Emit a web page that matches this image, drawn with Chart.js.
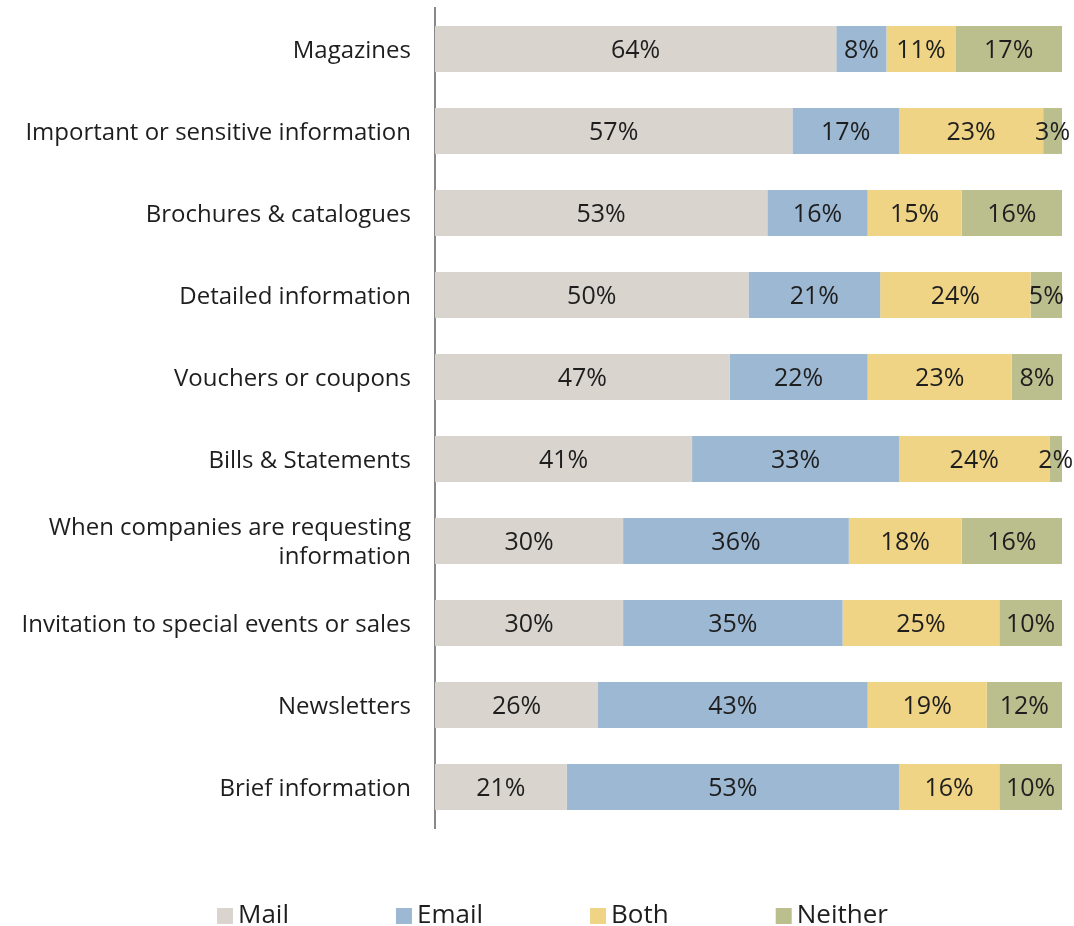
<!DOCTYPE html>
<html>
<head>
<meta charset="utf-8">
<script src="https://cdn.jsdelivr.net/npm/chart.js@4.4.1/dist/chart.umd.min.js"></script>
<style>
  html, body { margin: 0; padding: 0; background: #fff; }
  #wrap { width: 1074px; height: 926px; }
</style>
</head>
<body>
<div id="wrap"><canvas id="channels"></canvas></div>
<script>
var categories = [
  "Magazines",
  "Important or sensitive information",
  "Brochures & catalogues",
  "Detailed information",
  "Vouchers or coupons",
  "Bills & Statements",
  ["When companies are requesting", "information"],
  "Invitation to special events or sales",
  "Newsletters",
  "Brief information"
];
var mail    = [64, 57, 53, 50, 47, 41, 30, 30, 26, 21];
var email   = [8, 17, 16, 21, 22, 33, 36, 35, 43, 53];
var both    = [11, 23, 15, 24, 23, 24, 18, 25, 19, 16];
var neither = [17, 3, 16, 5, 8, 2, 16, 10, 12, 10];

var seriesNames  = ["Mail", "Email", "Both", "Neither"];
var seriesColors = ["#d9d4ce", "#9db8d2", "#efd486", "#bbbf8d"];

var FONT = "'Open Sans', sans-serif";
var TEXT = "#1e1e1e";

// percentage written in the middle of every segment
var segmentLabels = {
  id: "segmentLabels",
  afterDatasetsDraw: function(chart) {
    var ctx = chart.ctx;
    ctx.save();
    ctx.font = "25px " + FONT;
    ctx.fillStyle = TEXT;
    ctx.textAlign = "center";
    ctx.textBaseline = "middle";
    chart.data.datasets.forEach(function(ds, i) {
      chart.getDatasetMeta(i).data.forEach(function(bar, j) {
        var cx = (bar.x + bar.base) / 2;
        ctx.fillText(ds.data[j] + "%", cx, bar.y + 2);
      });
    });
    ctx.restore();
  }
};

// legend row under the plot
var bottomLegend = {
  id: "bottomLegend",
  afterDraw: function(chart) {
    var ctx = chart.ctx;
    ctx.save();
    ctx.font = "26px " + FONT;
    ctx.textBaseline = "middle";
    ctx.textAlign = "left";
    var box = 16, gap = 5, spacing = 107;
    var x = 217;
    var y = 916;
    seriesNames.forEach(function(n, i) {
      ctx.fillStyle = seriesColors[i];
      ctx.fillRect(x, y - box / 2, box, box);
      ctx.fillStyle = TEXT;
      ctx.fillText(n, x + box + gap, y);
      x += box + gap + ctx.measureText(n).width + spacing;
    });
    ctx.restore();
  }
};

var datasets = [mail, email, both, neither].map(function(d, i) {
  return {
    label: seriesNames[i],
    data: d,
    backgroundColor: seriesColors[i],
    borderWidth: 0,
    barPercentage: 0.56,
    categoryPercentage: 1
  };
});

new Chart(document.getElementById("channels"), {
  type: "bar",
  data: { labels: categories, datasets: datasets },
  plugins: [segmentLabels, bottomLegend],
  options: {
    indexAxis: "y",
    responsive: true,
    maintainAspectRatio: false,
    animation: false,
    layout: { padding: { top: 8, right: 12, bottom: 98, left: 0 } },
    plugins: {
      legend: { display: false },
      tooltip: { enabled: false }
    },
    scales: {
      x: {
        stacked: true,
        min: 0,
        max: 100,
        display: false
      },
      y: {
        stacked: true,
        grid: { display: false, drawTicks: false },
        border: { display: true, color: "#888888", width: 2 },
        afterFit: function(scale) {
          scale.width = 435;
          scale.paddingTop = 0;
          scale.paddingBottom = 0;
        },
        ticks: {
          padding: 24,
          labelOffset: 2,
          color: TEXT,
          font: { family: FONT, size: 24 }
        }
      }
    }
  }
});
</script>
</body>
</html>
